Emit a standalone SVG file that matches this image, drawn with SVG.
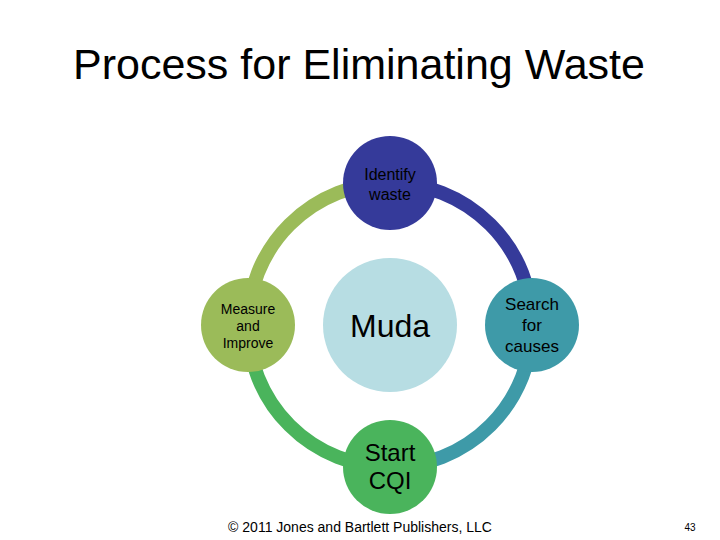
<svg xmlns="http://www.w3.org/2000/svg" width="720" height="540" viewBox="0 0 720 540">
<style>
text{font-family:"Liberation Sans",Arial,sans-serif;fill:#000;text-anchor:middle}
.arc{fill:none;stroke-width:14}
</style>
<rect width="720" height="540" fill="#fff"/>
<text x="359" y="79" font-size="43">Process for Eliminating Waste</text>
<g id="connectors">
<path class="arc" stroke="#9bbb59" d="M248,325 A142,142 0 0 1 390,183"/>
<path class="arc" stroke="#353a9a" d="M390,183 A142,142 0 0 1 532,325"/>
<path class="arc" stroke="#3e9aa8" d="M532,325 A142,142 0 0 1 390,467"/>
<path class="arc" stroke="#4ab45c" d="M390,467 A142,142 0 0 1 248,325"/>
</g>
<g id="muda"><circle cx="390" cy="325" r="67" fill="#b7dde3"/><text x="390" y="337" font-size="32">Muda</text></g>
<g id="identify"><circle cx="390" cy="183" r="47" fill="#353a9a"/><text x="390" y="180" font-size="16">Identify</text><text x="390" y="200" font-size="16">waste</text></g>
<g id="search"><circle cx="532" cy="325" r="47" fill="#3e9aa8"/><text x="532" y="310" font-size="17">Search</text><text x="532" y="331" font-size="17">for</text><text x="532" y="352" font-size="17">causes</text></g>
<g id="start"><circle cx="390" cy="467" r="47" fill="#4ab45c"/><text x="390" y="461" font-size="24">Start</text><text x="390" y="489" font-size="24">CQI</text></g>
<g id="measure"><circle cx="248" cy="325" r="47" fill="#9bbb59"/><text x="248" y="314" font-size="14">Measure</text><text x="248" y="331" font-size="14">and</text><text x="248" y="348" font-size="14">Improve</text></g>
<text x="360" y="532" font-size="14">© 2011 Jones and Bartlett Publishers, LLC</text>
<text x="690" y="531" font-size="10">43</text>
</svg>
